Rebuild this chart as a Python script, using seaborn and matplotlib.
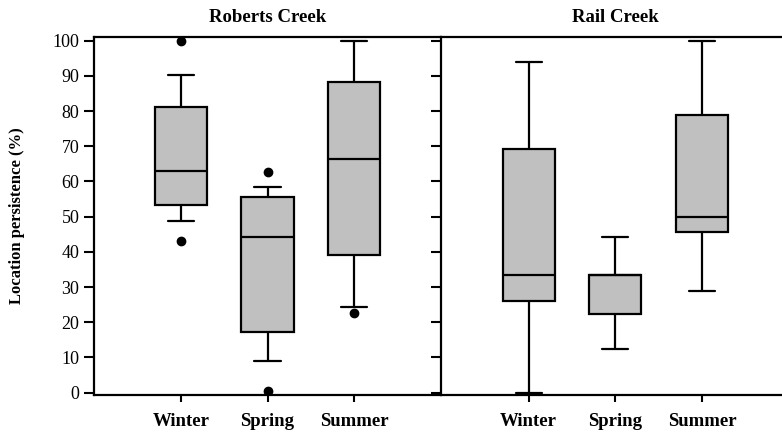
import matplotlib
matplotlib.use('Agg')
import matplotlib.pyplot as plt
import pandas as pd
import seaborn as sns

# Observations per site/season (hand-read so the 10/25/50/75/90 percentiles match the figure)
seasons = ['Winter', 'Spring', 'Summer']
sites = ['Roberts Creek', 'Rail Creek']

roberts_winter = [43.2, 48.9, 52.5, 54.3, 58.0, 63.0, 70.0, 78.0, 84.4, 90.3, 100.0]
roberts_spring = [0.6, 9.1, 15.0, 19.4, 30.0, 44.3, 50.0, 54.5, 56.5, 58.5, 62.6]
roberts_summer = [22.6, 24.4, 37.0, 41.2, 55.0, 66.4, 75.0, 86.0, 90.2, 100.0, 100.0]

rail_winter = [0.0, 0.0, 25.0, 27.2, 30.0, 33.4, 45.0, 66.0, 72.4, 93.8, 93.8]
rail_spring = [12.5, 12.5, 22.2, 22.4, 28.0, 33.3, 33.3, 33.3, 33.5, 44.2, 44.2]
rail_summer = [28.9, 28.9, 44.0, 47.0, 48.0, 49.9, 60.0, 75.0, 82.8, 100.0, 100.0]

yticks = list(range(0, 101, 10))

rows = []
for site, groups in zip(sites, [[roberts_winter, roberts_spring, roberts_summer],
                                [rail_winter, rail_spring, rail_summer]]):
    for season, vals in zip(seasons, groups):
        for v in vals:
            rows.append({'site': site, 'season': season, 'value': v})
df = pd.DataFrame(rows)

sns.set_style('ticks')
plt.rcParams['font.family'] = ['Liberation Serif', 'DejaVu Serif']
plt.rcParams['text.color'] = 'black'
plt.rcParams['axes.labelcolor'] = 'black'

fig = plt.figure(figsize=(7.82, 4.33), dpi=100)
ax1 = fig.add_axes([94 / 782, 0.0878, 347 / 782, 0.8274])
ax2 = fig.add_axes([441 / 782, 0.0878, 341 / 782, 0.8274])

for ax, site in zip([ax1, ax2], sites):
    sns.boxplot(data=df[df['site'] == site], x='season', y='value', order=seasons,
                whis=(10, 90), width=0.6, color='#c0c0c0', saturation=1,
                linecolor='black', linewidth=1.6,
                flierprops=dict(marker='o', markerfacecolor='black',
                                markeredgecolor='black', markersize=6),
                ax=ax)
    ax.set_ylim(-0.65, 101.1)
    ax.set_yticks(yticks)
    ax.set_xlabel('')
    ax.set_ylabel('')
    for s in ax.spines.values():
        s.set_linewidth(1.6)
        s.set_color('black')
    ax.spines['right'].set_visible(False)
    ax.tick_params(axis='y', length=7.5, width=1.5, pad=3, labelsize=13, colors='black')
    ax.tick_params(axis='x', length=5, width=1.5, pad=8, labelsize=13.5, colors='black')
    for lab in ax.get_xticklabels():
        lab.set_fontweight('bold')
    ax.text(1, 1.041, site, transform=ax.get_xaxis_transform(), ha='center',
            va='baseline', fontsize=13.5, fontweight='bold', color='black')

ax1.set_xlim(-1, 3)
ax2.set_xlim(-1.01, 2.92)
ax2.set_yticklabels([])

ax1.set_ylabel('Location persistence (%)', fontsize=12, fontweight='bold', color='black')
ax1.yaxis.set_label_coords(-0.198, 0.5)

fig.savefig('out.png', dpi=100)
